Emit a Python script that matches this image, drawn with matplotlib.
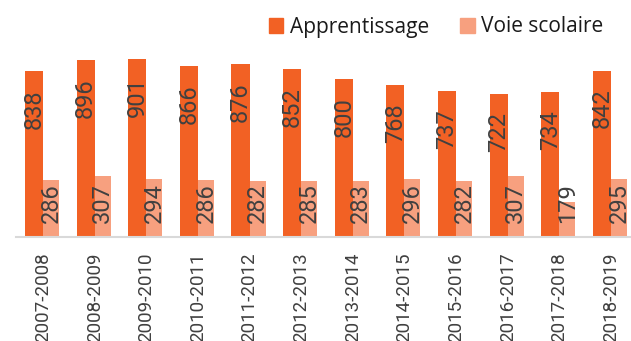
import matplotlib.pyplot as plt
from matplotlib.patches import Patch
import numpy as np

years = ["2007-2008", "2008-2009", "2009-2010", "2010-2011", "2011-2012", "2012-2013",
         "2013-2014", "2014-2015", "2015-2016", "2016-2017", "2017-2018", "2018-2019"]
apprentissage = [838, 896, 901, 866, 876, 852, 800, 768, 737, 722, 734, 842]
voie_scolaire = [286, 307, 294, 286, 282, 285, 283, 296, 282, 307, 179, 295]

c_app = "#F26124"
c_voie = "#F7A07F"
txt = "#404040"

fig = plt.figure(figsize=(6.31, 3.41), dpi=100)
ax = fig.add_axes([16 / 631, 104 / 341, 615 / 631, 197.6 / 341])

x = np.arange(len(years))
w1, w2 = 0.35, 0.31
ax.bar(x - w1, apprentissage, width=w1, align="edge", color=c_app)
ax.bar(x, voie_scolaire, width=w2, align="edge", color=c_voie)

# valeurs dans les barres
for xi, v in zip(x, apprentissage):
    ax.annotate(str(v), (xi - w1 / 2, v), xytext=(0, -13), textcoords="offset points",
                rotation=90, ha="center", va="top", fontsize=17, color=txt,
                family="Roboto")
for xi, v in zip(x, voie_scolaire):
    ax.annotate(str(v), (xi + w2 / 2, 0), xytext=(0, 10), textcoords="offset points",
                rotation=90, ha="center", va="bottom", fontsize=17, color=txt,
                family="Roboto")

ax.set_xlim(-0.523, 11.387)
ax.set_ylim(0, 1000)
ax.set_xticks(x)
ax.set_xticklabels(years, rotation=90, fontsize=13.5, color=txt, family="Roboto")
ax.tick_params(axis="x", length=0, pad=11)
ax.set_yticks([])
for s in ["top", "right", "left"]:
    ax.spines[s].set_visible(False)
ax.spines["bottom"].set_color("#d9d9d9")
ax.spines["bottom"].set_linewidth(1.5)

handles = [Patch(color=c_app, label="Apprentissage"), Patch(color=c_voie, label="Voie scolaire")]
leg = fig.legend(handles=handles, loc="center", bbox_to_anchor=(436 / 631, 1 - 27 / 341), ncol=2,
                 frameon=False, prop={"family": "Open Sans", "size": 15},
                 handlelength=0.7, handleheight=0.7, handletextpad=0.3, columnspacing=1.5)
for t in leg.get_texts():
    t.set_color("#1a1a1a")

fig.savefig("out.png", dpi=100)
